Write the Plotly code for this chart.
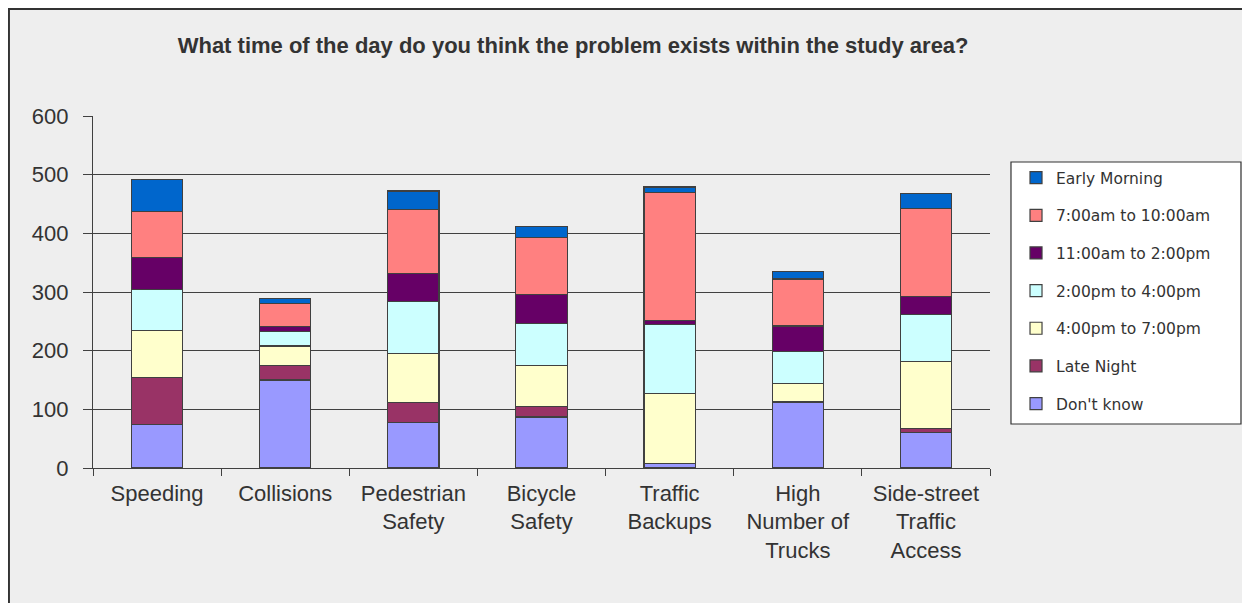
# Stacked bar chart - time of day problems exist, by problem type
import plotly.graph_objects as go

# data
categories = ["Speeding", "Collisions", "Pedestrian<br>Safety", "Bicycle<br>Safety",
              "Traffic<br>Backups", "High<br>Number of<br>Trucks", "Side-street<br>Traffic<br>Access"]

dont_know = [74, 150, 77, 87, 7, 111, 60]
late_night = [80, 25, 34, 18, 1, 3, 8]
pm4_to_7 = [81, 33, 84, 70, 119, 30, 113]
pm2_to_4 = [69, 24, 89, 71, 117, 54, 81]
am11_to_2 = [55, 9, 48, 50, 7, 44, 31]
am7_to_10 = [78, 39, 108, 97, 218, 80, 150]
early_morning = [55, 9, 32, 18, 10, 13, 25]

series_names = ["Don't know", "Late Night", "4:00pm to 7:00pm", "2:00pm to 4:00pm",
                "11:00am to 2:00pm", "7:00am to 10:00am", "Early Morning"]
series_values = [dont_know, late_night, pm4_to_7, pm2_to_4, am11_to_2, am7_to_10, early_morning]
series_colors = ["#9999FF", "#993366", "#FFFFCC", "#CCFFFF", "#660066", "#FF8080", "#0066CC"]

bg = "#EEEEEE"
dark = "#404040"

fig = go.Figure()
for i, (name, vals, col) in enumerate(zip(series_names, series_values, series_colors)):
    fig.add_trace(go.Bar(
        x=categories, y=vals, name=name,
        marker=dict(color=col, line=dict(color=dark, width=1.2)),
        legendgroup=name,
        legendrank=100 - i,   # Early Morning listed first
    ))

# the page puts the plot 8px in from the top-left, so size/margins allow for that
fig.update_layout(
    barmode="stack",
    bargap=0.6,
    width=1242, height=595,
    margin=dict(l=85, r=260, t=108, b=135),
    paper_bgcolor=bg, plot_bgcolor=bg,
    title=dict(
        text="<b>What time of the day do you think the problem exists within the study area?</b>",
        font=dict(family="Liberation Sans", size=22, color="#333333"),
        xref="container", x=0.455, xanchor="center",
        yref="container", y=0.937, yanchor="middle",
    ),
    legend=dict(
        traceorder="grouped",
        tracegroupgap=14.5,
        x=1.029, xanchor="left", y=0.872, yanchor="top",
        bgcolor="rgba(0,0,0,0)", borderwidth=0,
        font=dict(family="DejaVu Sans", size=15.5, color="#333333"),
        itemwidth=30,
    ),
    font=dict(family="Liberation Sans", color="#333333"),
)

fig.update_xaxes(
    showline=True, linecolor=dark, linewidth=1.2,
    ticks="outside", tickson="boundaries", ticklen=7, tickcolor=dark, tickwidth=1.2,
    tickfont=dict(family="Liberation Sans", size=22, color="#333333"),
    ticklabelstandoff=5,
    showgrid=False,
)
fig.update_yaxes(
    range=[0, 600], dtick=100,
    showline=True, linecolor=dark, linewidth=1.2,
    ticks="outside", ticklen=9, tickcolor=dark, tickwidth=1.2,
    tickfont=dict(family="Liberation Sans", size=22, color="#333333"),
    ticklabelstandoff=10,
    showgrid=True, gridcolor=dark, gridwidth=1.2,
    zeroline=False,
)

# outer chart frame
fig.add_shape(type="rect", xref="paper", yref="paper",
              x0=-0.0937, x1=1.3, y0=-0.41, y1=1.304,
              line=dict(color="#333333", width=2), layer="below")
# legend box
fig.add_shape(type="rect", xref="paper", yref="paper",
              x0=1.0234, x1=1.2798, y0=0.125, y1=0.8693,
              fillcolor="white", line=dict(color="#333333", width=1.2), layer="below")

fig.write_html("out.html")
